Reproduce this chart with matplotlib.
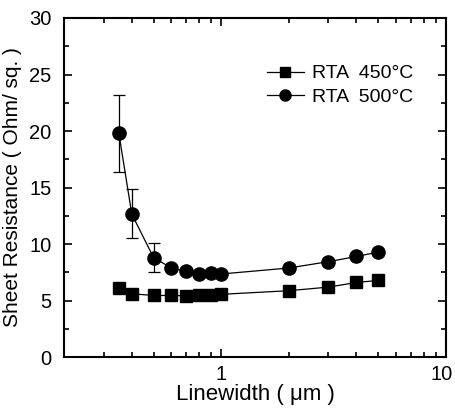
import matplotlib
matplotlib.use("Agg")
import matplotlib.pyplot as plt
import matplotlib.transforms as mtransforms
from matplotlib.lines import Line2D
from matplotlib.ticker import MultipleLocator, LogLocator, NullFormatter, FixedLocator, FixedFormatter

plt.rcParams['font.family'] = ['Liberation Sans', 'DejaVu Sans']

linewidth = [0.35, 0.4, 0.5, 0.6, 0.7, 0.8, 0.9, 1.0, 2.0, 3.0, 4.0, 5.0]
rs_450 = [6.1, 5.6, 5.45, 5.45, 5.42, 5.45, 5.5, 5.55, 5.87, 6.19, 6.6, 6.78]
rs_500 = [19.85, 12.65, 8.8, 7.88, 7.58, 7.32, 7.43, 7.35, 7.88, 8.44, 8.9, 9.29]
err_lo_500 = [3.45, 2.15, 1.25, 0, 0, 0, 0, 0, 0, 0, 0, 0]
err_hi_500 = [3.35, 2.25, 1.26, 0, 0, 0, 0, 0, 0, 0, 0, 0]
labels = ['RTA  450\u00b0C', 'RTA  500\u00b0C']

fig = plt.figure(figsize=(4.55, 4.09), dpi=100)
ax = fig.add_axes([0.141, 0.127, 0.839, 0.829])

ax.plot(linewidth, rs_450, '-', color='black', lw=0.9, marker='s', ms=8)
ax.errorbar(linewidth, rs_500, yerr=[err_lo_500, err_hi_500], fmt='-o',
            color='black', lw=0.9, ms=9.5, elinewidth=0.9, capsize=4,
            capthick=0.9)

ax.set_xscale('log')
ax.set_xlim(0.2, 10)
ax.set_ylim(0, 30)
ax.xaxis.set_major_locator(FixedLocator([1, 10]))
ax.xaxis.set_major_formatter(FixedFormatter(['1', '10']))
ax.xaxis.set_minor_locator(LogLocator(base=10, subs=range(2, 10)))
ax.xaxis.set_minor_formatter(NullFormatter())
ax.yaxis.set_major_locator(MultipleLocator(5))
ax.yaxis.set_minor_locator(MultipleLocator(2.5))

ax.tick_params(which='both', direction='in', top=True, right=True,
               width=1.2, labelsize=14.5)
ax.tick_params(axis='y', pad=9)
ax.tick_params(axis='x', pad=6)
ax.tick_params(which='major', length=6)
ax.tick_params(which='minor', length=3.5)
for s in ax.spines.values():
    s.set_linewidth(1.5)

# nudge the "10" label so it stays inside the figure
lbl10 = ax.get_xticklabels()[1]
lbl10.set_transform(lbl10.get_transform() +
                    mtransforms.ScaledTranslation(-4 / 100, 0, fig.dpi_scale_trans))

ax.set_xlabel('Linewidth ( \u03bcm )', fontsize=16, labelpad=0)
ax.set_ylabel('Sheet Resistance ( Ohm/ sq. )', fontsize=15, labelpad=5)

handles = [Line2D([], [], color='black', lw=0.9, marker='s', ms=7),
           Line2D([], [], color='black', lw=0.9, marker='o', ms=8)]
ax.legend(handles, labels, loc='upper left', bbox_to_anchor=(0.531, 0.862),
          frameon=False, fontsize=14, handlelength=1.9, handletextpad=0.41,
          labelspacing=0.3, borderpad=0, borderaxespad=0)

fig.savefig('out.png', dpi=100)
